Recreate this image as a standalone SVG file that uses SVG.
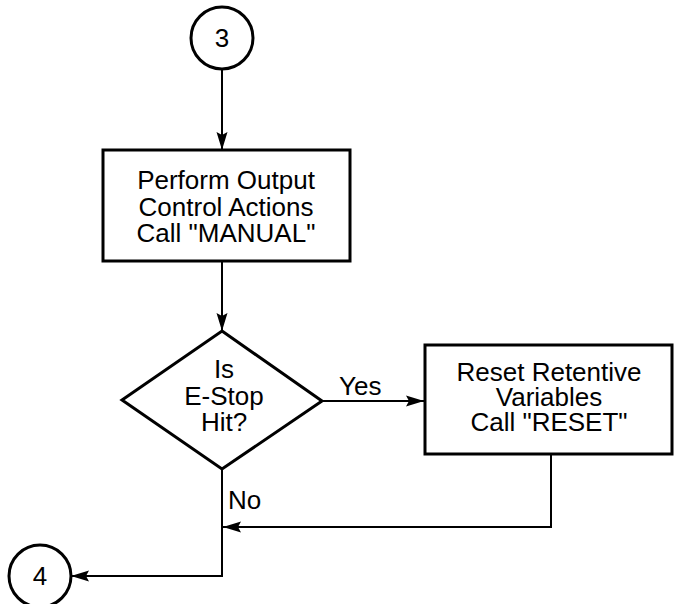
<svg xmlns="http://www.w3.org/2000/svg" width="674" height="604" viewBox="0 0 674 604">
  <style>
    .shape { fill: #fff; stroke: #000; stroke-width: 3; }
    .conn { fill: none; stroke: #000; stroke-width: 2; }
    text { font-family: "Liberation Sans", Arial, Helvetica, sans-serif; font-size: 26px; fill: #000; text-anchor: middle; }
    .lbl { text-anchor: start; }
  </style>
  <defs>
    <marker id="arrow" viewBox="-19 -6 20 12" refX="0" refY="0" markerWidth="20" markerHeight="12" markerUnits="userSpaceOnUse" orient="auto">
      <path d="M0,0 L-18,-5.5 L-15,0 L-18,5.5 Z" fill="#000"/>
    </marker>
  </defs>
  <rect width="674" height="604" fill="#fff"/>

  <!-- connectors -->
  <g id="connectors">
    <line class="conn" x1="222" y1="69" x2="222" y2="150" marker-end="url(#arrow)"/>
    <line class="conn" x1="222" y1="261" x2="222" y2="331" marker-end="url(#arrow)"/>
    <line class="conn" x1="322" y1="401" x2="424" y2="401" marker-end="url(#arrow)"/>
    <polyline class="conn" points="551,454 551,527 223,527" marker-end="url(#arrow)"/>
    <polyline class="conn" points="222,469 222,576 71,576" marker-end="url(#arrow)"/>
    <text class="lbl" x="339" y="395">Yes</text>
    <text class="lbl" x="228" y="509">No</text>
  </g>

  <!-- off-page connector 3 -->
  <g id="conn3">
    <circle class="shape" cx="222" cy="38" r="31" stroke-width="2.8"/>
    <text x="222" y="47">3</text>
  </g>

  <!-- output control step -->
  <g id="manual">
    <rect class="shape" x="103" y="150" width="247" height="111"/>
    <text x="226" y="189">Perform Output</text>
    <text x="226" y="216">Control Actions</text>
    <text x="226" y="242">Call "MANUAL"</text>
  </g>

  <!-- E-Stop decision -->
  <g id="estop">
    <polygon class="shape" points="222,331 322,401 222,469 122,400"/>
    <text x="224" y="378">Is</text>
    <text x="224" y="405">E-Stop</text>
    <text x="224" y="431">Hit?</text>
  </g>

  <!-- reset step -->
  <g id="reset">
    <rect class="shape" x="425" y="345" width="247" height="109"/>
    <text x="549" y="381">Reset Retentive</text>
    <text x="549" y="406">Variables</text>
    <text x="549" y="431">Call "RESET"</text>
  </g>

  <!-- off-page connector 4 -->
  <g id="conn4">
    <circle class="shape" cx="40" cy="576" r="31" stroke-width="2.8"/>
    <text x="40" y="585">4</text>
  </g>
</svg>
